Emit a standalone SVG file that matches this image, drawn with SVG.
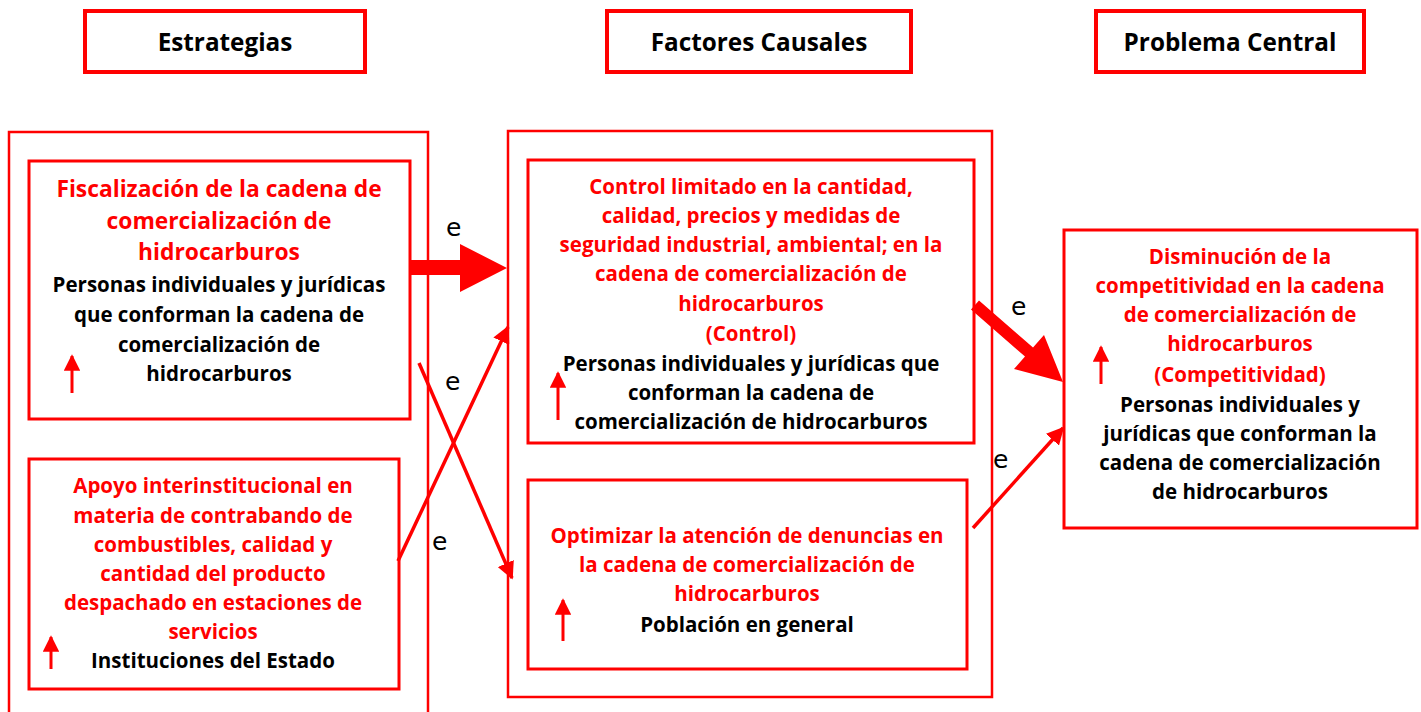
<svg xmlns="http://www.w3.org/2000/svg" width="1421" height="712" viewBox="0 0 1421 712">
<defs>
<style>
.hdr{fill:#fff;stroke:#ff0000;stroke-width:4}
.outer{fill:none;stroke:#ff0000;stroke-width:2.5}
.box{fill:#fff;stroke:#ff0000;stroke-width:3}
.ht{font-family:"Open Sans",Lato,sans-serif;font-weight:bold;font-size:24.3px;fill:#000;text-anchor:middle}
.r{font-family:"Open Sans",Lato,sans-serif;font-weight:bold;font-size:20.5px;fill:#ff0000;text-anchor:middle}
.rb{font-family:"Open Sans",Lato,sans-serif;font-weight:bold;font-size:22.8px;fill:#ff0000;text-anchor:middle}
.k{font-family:"Open Sans",Lato,sans-serif;font-weight:bold;font-size:20.5px;fill:#000;text-anchor:middle}
.e{font-family:"DejaVu Sans",sans-serif;font-size:25px;fill:#000}
.thin{stroke:#ff0000;stroke-width:3.5;fill:none}
.up{stroke:#ff0000;stroke-width:3;fill:none}
</style>
<marker id="ah" viewBox="0 0 10 10" refX="9" refY="5" markerWidth="5" markerHeight="5" markerUnits="strokeWidth" orient="auto">
<path d="M0,0 L10,5 L0,10 z" fill="#ff0000"/>
</marker>
<marker id="uh" viewBox="0 0 10 10" refX="9" refY="5" markerWidth="5.5" markerHeight="5.5" markerUnits="strokeWidth" orient="auto">
<path d="M0,0 L10,5 L0,10 z" fill="#ff0000"/>
</marker>
</defs>
<rect width="1421" height="712" fill="#fff"/>

<g id="hdr-estrategias"><rect class="hdr" x="85" y="11" width="280" height="61"/><text class="ht" x="225" y="51">Estrategias</text></g>
<g id="hdr-factores"><rect class="hdr" x="607" y="11" width="304" height="61"/><text class="ht" x="759" y="51">Factores Causales</text></g>
<g id="hdr-problema"><rect class="hdr" x="1096" y="11" width="268" height="61"/><text class="ht" x="1230" y="51">Problema Central</text></g>

<g id="col-estrategias"><rect class="outer" x="9" y="132" width="419" height="590"/></g>
<g id="col-factores"><rect class="outer" x="508" y="131" width="484" height="566"/></g>

<g id="fiscalizacion">
<rect class="box" x="29" y="161" width="381" height="258"/>
<text class="rb" x="219" y="197">Fiscalización de la cadena de</text>
<text class="rb" x="219" y="229">comercialización de</text>
<text class="rb" x="219" y="260">hidrocarburos</text>
<text class="k" x="219" y="292">Personas individuales y jurídicas</text>
<text class="k" x="219" y="322">que conforman la cadena de</text>
<text class="k" x="219" y="352">comercialización de</text>
<text class="k" x="219" y="381">hidrocarburos</text>
<line class="up" x1="72" y1="393" x2="72" y2="356" marker-end="url(#uh)"/>
</g>

<g id="apoyo">
<rect class="box" x="29" y="459" width="370" height="230"/>
<text class="r" x="213" y="493">Apoyo interinstitucional en</text>
<text class="r" x="213" y="523">materia de contrabando de</text>
<text class="r" x="213" y="552">combustibles, calidad y</text>
<text class="r" x="213" y="581">cantidad del producto</text>
<text class="r" x="213" y="610">despachado en estaciones de</text>
<text class="r" x="213" y="639">servicios</text>
<text class="k" x="213" y="668">Instituciones del Estado</text>
<line class="up" x1="51" y1="669" x2="51" y2="637" marker-end="url(#uh)"/>
</g>

<g id="control">
<rect class="box" x="528" y="160" width="446" height="283"/>
<text class="r" x="751" y="194">Control limitado en la cantidad,</text>
<text class="r" x="751" y="223">calidad, precios y medidas de</text>
<text class="r" x="751" y="252">seguridad industrial, ambiental; en la</text>
<text class="r" x="751" y="281">cadena de comercialización de</text>
<text class="r" x="751" y="311">hidrocarburos</text>
<text class="r" x="751" y="341">(Control)</text>
<text class="k" x="751" y="371">Personas individuales y jurídicas que</text>
<text class="k" x="751" y="400">conforman la cadena de</text>
<text class="k" x="751" y="429">comercialización de hidrocarburos</text>
<line class="up" x1="558" y1="420" x2="558" y2="373" marker-end="url(#uh)"/>
</g>

<g id="optimizar">
<rect class="box" x="528" y="480" width="439" height="189"/>
<text class="r" x="747" y="543">Optimizar la atención de denuncias en</text>
<text class="r" x="747" y="572">la cadena de comercialización de</text>
<text class="r" x="747" y="601">hidrocarburos</text>
<text class="k" x="747" y="632">Población en general</text>
<line class="up" x1="563" y1="641" x2="563" y2="600" marker-end="url(#uh)"/>
</g>

<g id="competitividad">
<rect class="box" x="1064" y="230" width="353" height="298"/>
<text class="r" x="1240" y="264">Disminución de la</text>
<text class="r" x="1240" y="293">competitividad en la cadena</text>
<text class="r" x="1240" y="322">de comercialización de</text>
<text class="r" x="1240" y="351">hidrocarburos</text>
<text class="r" x="1240" y="382">(Competitividad)</text>
<text class="k" x="1240" y="412">Personas individuales y</text>
<text class="k" x="1240" y="441">jurídicas que conforman la</text>
<text class="k" x="1240" y="470">cadena de comercialización</text>
<text class="k" x="1240" y="499">de hidrocarburos</text>
<line class="up" x1="1101" y1="384" x2="1101" y2="347" marker-end="url(#uh)"/>
</g>

<g id="connectors">
<path d="M410,260 L460,260 L460,244 L507,268 L460,292 L460,275 L410,275 z" fill="#ff0000"/>
<line class="thin" x1="398" y1="561" x2="508" y2="327" marker-end="url(#ah)"/>
<line class="thin" x1="419" y1="363" x2="512" y2="578" marker-end="url(#ah)"/>
<path d="M971,309.5 L979,300.5 L1033,347.5 L1044,335 L1063,382 L1014,369 L1025,356.5 z" fill="#ff0000"/>
<line class="thin" x1="973" y1="528" x2="1063" y2="428" marker-end="url(#ah)"/>
<text class="e" x="446" y="236">e</text>
<text class="e" x="445" y="390">e</text>
<text class="e" x="432" y="550">e</text>
<text class="e" x="1011" y="315">e</text>
<text class="e" x="993" y="468">e</text>
</g>
</svg>
